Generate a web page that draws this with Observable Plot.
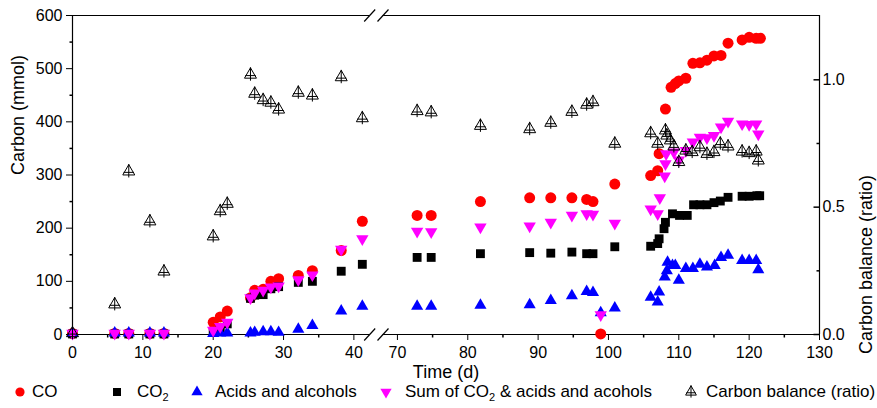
<!DOCTYPE html>
<html><head><meta charset="utf-8">
<script src="https://cdn.jsdelivr.net/npm/d3@7"></script>
<script src="https://cdn.jsdelivr.net/npm/@observablehq/plot@0.6"></script>
<style>
body{margin:0;background:#fff;font-family:"Liberation Sans",Arial,sans-serif;}
#wrap{width:877px;}
#legend{position:relative;width:877px;height:24px;font-size:17px;color:#000;}
.sym{position:absolute;top:0px;}
.lab{position:absolute;top:-2px;white-space:nowrap;line-height:20px;}
.lab sub{font-size:11px;vertical-align:-4px;line-height:0;}
</style></head><body><div id="wrap"><div id="chart"></div><div id="legend"></div></div>
<script>
// ---------- data ----------
const coDays = [0,6,8,11,13,20,21,22,25.3,25.9,27.1,28.2,29.3,32.1,34.1,38.2,41.2,72.8,74.8,81.8,88.8,91.8,94.8,96.9,97.8,98.9,100.9,106,107,107.2,108.1,108.9,109.5,110,111,112,113,114,115,116,117,119,120,121,121.6];
const coVals = [2,2,2,2,2,23,33,44,69,83,85,100,105,111,120,158,213,224,224,250,257,257,257,254,250,1,283,299,308,340,424,465,472,477,482,510,511,516,524,525,548,554,559,557,557];

const co2Days = [0,6,8,11,13,20,21,22,25.3,25.9,27.1,28.2,29.3,32.1,34.1,38.2,41.2,72.8,74.8,81.8,88.8,91.8,94.8,96.9,97.8,100.9,106,107,107.2,107.9,108.1,109.1,110.1,111.2,112.1,113,114,115,115.9,117,119,120,121.1,121.5];
const co2Vals = [1,1,1,1,1,5,12,20,68,74,75,86,90,98,100,119,132,145,145,152,154,153,155,152,152,165,166,171,180,199,211,227,224,224,244,244,244,248,251,258,260,260,261,261];

const acidDays = [0,6,8,11,13,20,21,22,25.3,25.9,27.1,28.2,29.3,32.1,34.1,38.2,41.2,72.8,74.8,81.8,88.8,91.8,94.8,96.9,97.8,98.9,100.9,106,107,107.2,108,108.3,108.4,109.1,109.5,110,111,112,113,114,115.1,116,117,119,120,121,121.3];
const acidVals = [2,3,3,3,3,2,3,3,3,4,5,5,4,10,17,44,53,53,53,55,56,64,73,81,79,41,50,70,61,80,108,120,136,130,130,102,124,124,132,127,130,145,149,139,139,139,122];

const sumDays = [0,6,8,11,13,20,21,22,25.3,25.9,27.1,28.2,29.3,32.1,34.1,38.2,41.2,72.8,74.8,81.8,88.8,91.8,94.8,96.9,97.8,98.9,100.9,106,107,107.3,108,108.1,108.2,109.3,110,111,112,113,114,115,116,117,119,120,121,121.3];
const sumVals = [2,2,2,2,2,8,15,23,69,78,83,89,91,103,112,160,180,194,193,202,204,211,224,227,226,37,209,236,227,257,298,321,340,343,328,346,362,371,370,374,390,401,396,395,396,377];

const cbDays = [0,6,8,11,13,20,21,22,25.3,25.9,27.1,28.2,29.3,32.1,34.1,38.2,41.2,72.8,74.8,81.8,88.8,91.8,94.8,96.9,97.8,100.9,106,107,108.1,108.3,108.8,109.3,110,111,111.9,113,114,115,115.9,117,119,120,121,121.3];
const cbVals = [0.005,0.118,0.64,0.444,0.247,0.385,0.484,0.513,1.02,0.945,0.92,0.91,0.883,0.949,0.938,1.01,0.849,0.877,0.872,0.819,0.806,0.831,0.874,0.902,0.912,0.749,0.79,0.749,0.801,0.781,0.762,0.738,0.677,0.722,0.716,0.735,0.709,0.716,0.749,0.738,0.718,0.712,0.718,0.683];

// axes
const xBreak = [42.25, 67.95];   // axis break (days)
const xBreakWidth = 1.89;        // visual width of the break, in days
const xMax = 130;
const xMajor = [0,10,20,30,40,70,80,90,100,110,120,130];
const xMinor = [5,15,25,35,75,85,95,105,115,125];
const yMax = 600;
const yMajor = [0,100,200,300,400,500,600];
const yMinor = [50,150,250,350,450,550];
const rMax = 1.2525;
const rMajor = [0, 0.5, 1.0];
const rMinor = [0.25, 0.75];

const k = yMax / rMax;
const breakT = d => d <= xBreak[0] ? d : (d >= xBreak[1] ? d - (xBreak[1] - xBreak[0]) + xBreakWidth : xBreak[0] + (d - xBreak[0]) / (xBreak[1] - xBreak[0]) * xBreakWidth);

// ---------- symbols ----------
const s3 = Math.sqrt(3);
const triY = size => Math.sqrt(size / (3 * s3));
const upTri = {draw(c, size){ const y = triY(size); c.moveTo(0,-2*y); c.lineTo(s3*y, y); c.lineTo(-s3*y, y); c.closePath(); }};
const downTri = {draw(c, size){ const y = triY(size); c.moveTo(0,2*y); c.lineTo(-s3*y,-y); c.lineTo(s3*y,-y); c.closePath(); }};
const cbSym = {draw(c, size){ const y = triY(size);
  c.moveTo(0,-2*y); c.lineTo(s3*y, y); c.lineTo(-s3*y, y); c.closePath();
  c.moveTo(0,-2*y-0.5); c.lineTo(0, y+2.5);
  c.moveTo(-1.5*y, 0.25*y); c.lineTo(1.5*y, 0.25*y); }};
const tickDown = n => ({draw(c){ c.moveTo(0,0); c.lineTo(0,n); }});
const tickLeft = n => ({draw(c){ c.moveTo(0,0); c.lineTo(-n,0); }});
const slash = {draw(c){ c.moveTo(-5.5,6); c.lineTo(5.5,-6); }};

const zip = (a, b) => a.map((d, i) => ({day: d, v: b[i]}));
const co = zip(coDays, coVals), co2 = zip(co2Days, co2Vals), acid = zip(acidDays, acidVals), sum = zip(sumDays, sumVals), cb = zip(cbDays, cbVals);

const segs = [];
for (const y of [0, yMax]) { segs.push({y, x1: 0, x2: xBreak[0]}); segs.push({y, x1: xBreak[1], x2: xMax}); }

const font = '"Liberation Sans", Arial, sans-serif';
const chart = Plot.plot({
  width: 877, height: 384,
  marginLeft: 72, marginRight: 58, marginTop: 15, marginBottom: 50,
  style: {fontFamily: font, fontSize: "16px", color: "#000", background: "#fff", overflow: "visible"},
  x: {domain: [0, breakT(xMax)], transform: breakT},
  y: {domain: [0, yMax]},
  marks: [
    Plot.ruleX([0, xMax], {stroke: "#000", strokeWidth: 1.2}),
    Plot.ruleY(segs, {y: "y", x1: "x1", x2: "x2", stroke: "#000", strokeWidth: 1.2}),
    Plot.dot(xBreak, {x: d => d, frameAnchor: "bottom", symbol: slash, stroke: "#000", fill: "none", strokeWidth: 1.2}),
    Plot.dot(xBreak, {x: d => d, frameAnchor: "top", symbol: slash, stroke: "#000", fill: "none", strokeWidth: 1.2}),
    Plot.axisX(xMajor, {tickSize: 6, tickPadding: 6, label: null, stroke: "#000", tickFormat: d => String(d)}),
    Plot.dot(xMinor, {x: d => d, frameAnchor: "bottom", symbol: tickDown(3), stroke: "#000", fill: "none"}),
    Plot.axisY(yMajor, {tickSize: 6, tickPadding: 4, label: null, stroke: "#000"}),
    Plot.dot(yMinor, {y: d => d, frameAnchor: "left", symbol: tickLeft(3), stroke: "#000", fill: "none"}),
    Plot.axisY(rMajor.map(t => t * k), {anchor: "right", tickSize: 0, tickPadding: 3, label: null, tickFormat: d => (d / k).toFixed(1)}),
    Plot.dot(rMajor, {y: d => d * k, frameAnchor: "right", symbol: tickLeft(6), stroke: "#000", fill: "none"}),
    Plot.dot(rMinor, {y: d => d * k, frameAnchor: "right", symbol: tickLeft(3), stroke: "#000", fill: "none"}),
    Plot.text(["Carbon (mmol)"], {frameAnchor: "left", dx: -54, rotate: -90, fontSize: 18}),
    Plot.text(["Carbon balance (ratio)"], {frameAnchor: "right", dx: 47, rotate: -90, fontSize: 18}),
    Plot.text(["Time (d)"], {frameAnchor: "bottom", dy: 43, fontSize: 18}),
    Plot.dot(co, {x: "day", y: "v", r: 5.5, fill: "#ff0000", symbol: "circle"}),
    Plot.dot(co2, {x: "day", y: "v", r: 5, fill: "#000", symbol: "square"}),
    Plot.dot(acid, {x: "day", y: "v", r: 4.5, fill: "#0000ff", symbol: upTri}),
    Plot.dot(sum, {x: "day", y: "v", r: 4.6, fill: "#ff00ff", symbol: downTri}),
    Plot.dot(cb, {x: "day", y: d => d.v * k, r: 4.45, fill: "none", stroke: "#000", strokeWidth: 1, symbol: cbSym})
  ]
});
document.getElementById("chart").appendChild(chart);

// ---------- legend ----------
const legendItems = [
  {html: "CO", sym: d3.symbolCircle, size: Math.PI*4.6*4.6, fill: "#ff0000", stroke: "none", cx: 20, tx: 32},
  {html: "CO<sub>2</sub>", sym: d3.symbolSquare, size: 64, fill: "#000", stroke: "none", cx: 117, tx: 137},
  {html: "Acids and alcohols", sym: upTri, size: 55, fill: "#0000ff", stroke: "none", cx: 197, tx: 215},
  {html: "Sum of CO<sub>2</sub> &amp; acids and acohols", sym: downTri, size: 55, fill: "#ff00ff", stroke: "none", cx: 386, tx: 405},
  {html: "Carbon balance (ratio)", sym: cbSym, size: 50, fill: "none", stroke: "#000", cx: 691, tx: 706}
];
const leg = d3.select("#legend");
for (const it of legendItems) {
  const svg = leg.append("svg").attr("class", "sym").attr("width", 16).attr("height", 16)
    .style("left", (it.cx - 8) + "px");
  svg.append("path").attr("transform", "translate(8,8)")
    .attr("d", d3.symbol().type(it.sym).size(it.size)())
    .attr("fill", it.fill).attr("stroke", it.stroke).attr("stroke-width", 1);
  leg.append("span").attr("class", "lab").style("left", it.tx + "px").html(it.html);
}
</script></body></html>
